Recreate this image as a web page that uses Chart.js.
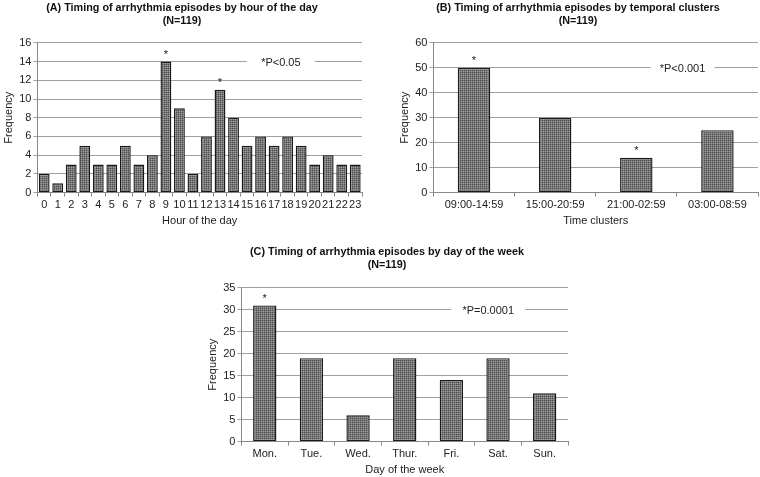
<!DOCTYPE html>
<html>
<head>
<meta charset="utf-8">
<script src="https://cdn.jsdelivr.net/npm/chart.js@4.4.1/dist/chart.umd.min.js"></script>
<style>
  html, body { margin: 0; padding: 0; background: #fff; }
  body { width: 760px; height: 477px; position: relative; overflow: hidden; }
  canvas { position: absolute; }
</style>
</head>
<body>
<canvas id="cA" width="380" height="230" style="left:0px;top:0px;width:380px;height:230px"></canvas>
<canvas id="cB" width="382" height="230" style="left:378px;top:0px;width:382px;height:230px"></canvas>
<canvas id="cC" width="420" height="237" style="left:180px;top:242px;width:420px;height:237px"></canvas>
<script>
// ---- Data ----
const hourLabels = ['0','1','2','3','4','5','6','7','8','9','10','11','12','13','14','15','16','17','18','19','20','21','22','23'];
const hourCounts = [2,1,3,5,3,3,5,3,4,14,9,2,6,11,8,5,6,5,6,5,3,4,3,3];
const hourStars = [9, 13];

const clusterLabels = ['09:00-14:59','15:00-20:59','21:00-02:59','03:00-08:59'];
const clusterCounts = [50,30,14,25];
const clusterStars = [0, 2];

const dayLabels = ['Mon.','Tue.','Wed.','Thur.','Fri.','Sat.','Sun.'];
const dayCounts = [31,19,6,19,14,19,11];
const dayStars = [0];

const titleA = ['(A) Timing of arrhythmia episodes by hour of the day','(N=119)'];
const titleB = ['(B) Timing of arrhythmia episodes by temporal clusters','(N=119)'];
const titleC = ['(C) Timing of arrhythmia episodes by day of the week','(N=119)'];

// ---- Styling helpers ----
const FONT = "'Liberation Sans', Arial, sans-serif";
function makePattern() {
  const p = document.createElement('canvas');
  p.width = 2; p.height = 2;
  const g = p.getContext('2d');
  g.fillStyle = '#777777'; g.fillRect(0,0,2,2);
  g.fillStyle = '#4e4e4e'; g.fillRect(0,0,1,1);
  g.fillStyle = '#9c9c9c'; g.fillRect(1,1,1,1);
  return g.createPattern(p, 'repeat');
}
const pattern = makePattern();

const annotPlugin = {
  id: 'annot',
  afterDatasetsDraw(chart, args, opts) {
    const ctx = chart.ctx;
    const xs = chart.scales.x, ys = chart.scales.y;
    const meta = chart.getDatasetMeta(0);
    ctx.save();
    ctx.fillStyle = '#222';
    ctx.font = '11px ' + FONT;
    ctx.textAlign = 'center';
    ctx.textBaseline = 'bottom';
    (opts.stars || []).forEach(i => {
      const bar = meta.data[i];
      ctx.fillText('*', bar.x, bar.y - 1);
    });
    const px = xs.getPixelForValue(opts.px);
    const py = ys.getPixelForValue(opts.py);
    ctx.fillStyle = '#fff';
    ctx.fillRect(px - opts.gap/2, py - 2, opts.gap, 4);
    ctx.fillStyle = '#222';
    ctx.textBaseline = 'middle';
    ctx.fillText(opts.text, px, py + 1);
    ctx.restore();
  }
};

function makeChart(id, labels, data, title, xTitle, yMax, yStep, barPct, stars, annot, pad, titlePad) {
  return new Chart(document.getElementById(id), {
    type: 'bar',
    data: {
      labels: labels,
      datasets: [{
        data: data,
        backgroundColor: pattern,
        borderColor: '#1a1a1a',
        borderWidth: 1.4,
        borderSkipped: false,
        categoryPercentage: 1.0,
        barPercentage: barPct
      }]
    },
    plugins: [annotPlugin],
    options: {
      responsive: false,
      animation: false,
      layout: { padding: pad },
      plugins: {
        legend: { display: false },
        tooltip: { enabled: false },
        title: {
          display: true,
          text: title,
          color: '#111',
          font: { family: FONT, size: 10.8, weight: 'bold', lineHeight: 1.15 },
          padding: { top: 0, bottom: titlePad }
        },
        annot: Object.assign({ stars: stars }, annot)
      },
      scales: {
        x: {
          offset: true,
          grid: { display: true, drawOnChartArea: false, drawTicks: true, tickLength: 4, color: '#888', offset: true },
          border: { display: true, color: '#888', width: 1 },
          ticks: { color: '#222', font: { family: FONT, size: 11 }, padding: 2, maxRotation: 0, autoSkip: false },
          title: { display: true, text: xTitle, color: '#222', font: { family: FONT, size: 11 }, padding: { top: 1, bottom: 0 } }
        },
        y: {
          min: 0, max: yMax,
          grid: { color: '#a0a0a0', lineWidth: 1, tickLength: 4, drawTicks: true },
          border: { display: true, color: '#888', width: 1 },
          ticks: { stepSize: yStep, color: '#222', font: { family: FONT, size: 11 }, padding: 2 },
          title: { display: true, text: 'Frequency', color: '#222', font: { family: FONT, size: 11 }, padding: { top: 0, bottom: 2 } }
        }
      }
    }
  });
}

makeChart('cA', hourLabels, hourCounts, titleA, 'Hour of the day', 16, 2, 0.8, hourStars,
  { px: 17.5, py: 14, text: '*P<0.05', gap: 68 }, { left: 2, right: 18, top: 2, bottom: 2 }, 16);
makeChart('cB', clusterLabels, clusterCounts, titleB, 'Time clusters', 60, 10, 0.4, clusterStars,
  { px: 2.57, py: 50, text: '*P<0.001', gap: 64 }, { left: 20, right: 2, top: 2, bottom: 2 }, 16);
makeChart('cC', dayLabels, dayCounts, titleC, 'Day of the week', 35, 5, 0.5, dayStars,
  { px: 4.79, py: 30, text: '*P=0.0001', gap: 74 }, { left: 26, right: 32, top: 4, bottom: 2 }, 17);
</script>
</body>
</html>
